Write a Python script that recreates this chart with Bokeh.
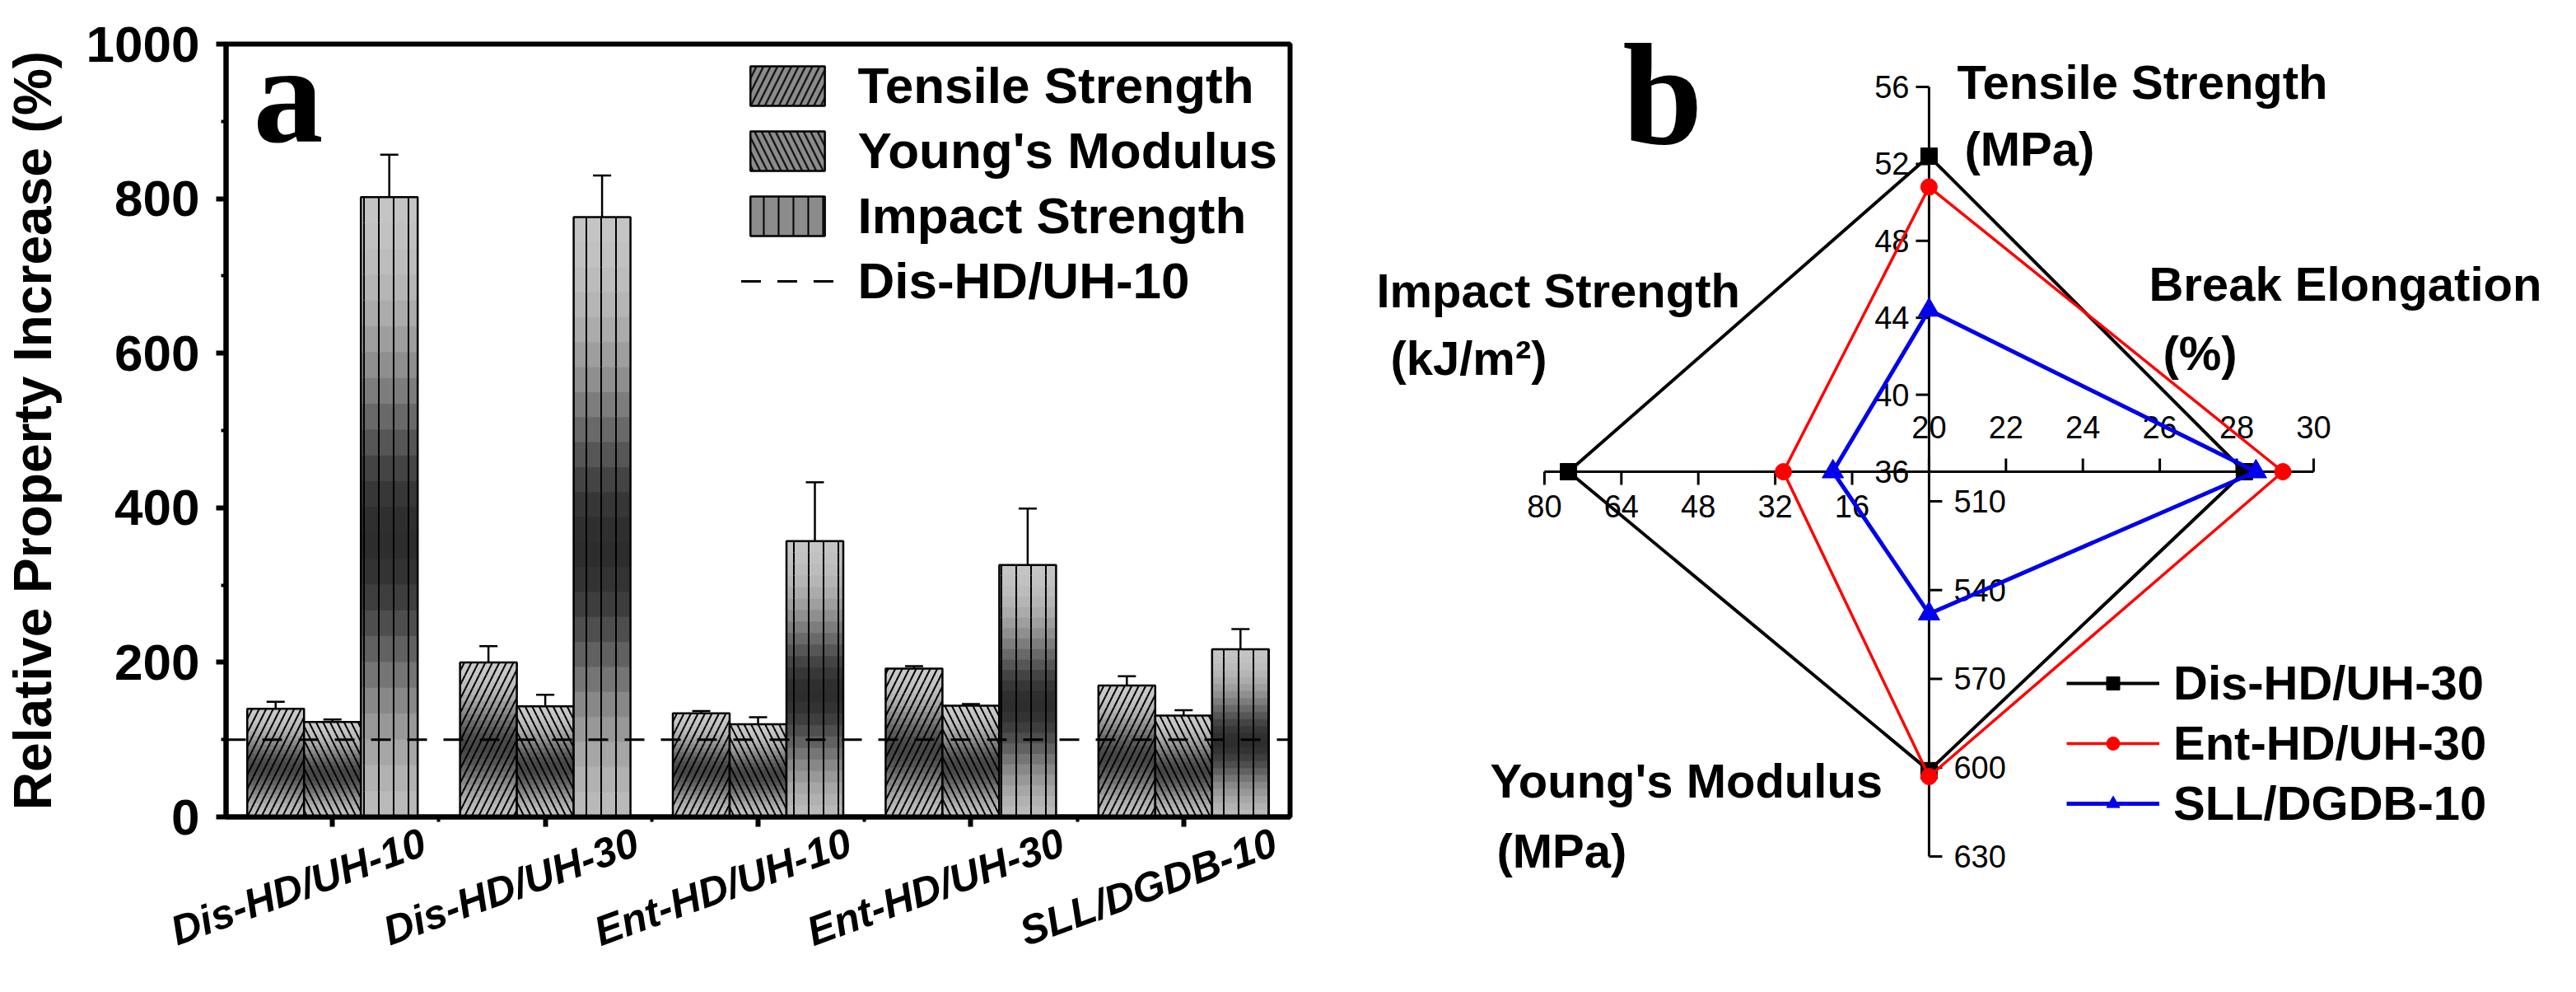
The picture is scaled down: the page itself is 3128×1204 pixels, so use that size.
import math

from bokeh.core.properties import value
from bokeh.embed import file_html
from bokeh.layouts import row
from bokeh.models import (ColumnDataSource, FixedTicker, Label, Legend, LegendItem,
                          LinearAxis, Range1d, SingleIntervalTicker, TeeHead, Whisker)
from bokeh.plotting import figure
from bokeh.resources import INLINE

# panel a: relative property increase (%)
categories = ["Dis-HD/UH-10", "Dis-HD/UH-30", "Ent-HD/UH-10", "Ent-HD/UH-30", "SLL/DGDB-10"]
tensile = [140, 200, 134, 192, 170]
tensile_err = [9, 21, 3, 3, 12]
modulus = [123, 143, 120, 144, 131]
modulus_err = [3, 15, 9, 2, 7]
impact = [802, 776, 357, 326, 217]
impact_err = [55, 54, 76, 73, 26]
reference_level = 100  # Dis-HD/UH-10

# panel b: radar, axes in order up, right, down, left
radar_axes = ["Tensile Strength", "Break Elongation", "Young's Modulus", "Impact Strength"]
radar_units = ["(MPa)", "(%)", "(MPa)", "(kJ/m\u00b2)"]
radar_lo = [36, 20, 500, 0]
radar_hi = [56, 30, 630, 80]
tensile_ticks = [36, 40, 44, 48, 52, 56]
elongation_ticks = [20, 22, 24, 26, 28, 30]
modulus_ticks = [510, 540, 570, 600, 630]
impact_ticks = [16, 32, 48, 64, 80]
radar_names = ["Dis-HD/UH-30", "Ent-HD/UH-30", "SLL/DGDB-10"]
dis_hd_uh_30 = [52.4, 28.2, 601, 75.0]
ent_hd_uh_30 = [50.8, 29.2, 603, 30.3]
sll_dgdb_10 = [44.4, 28.5, 548, 20.0]

SANS = "Liberation Sans"
SERIF = "Liberation Serif"


def shade(f, light, dark):
    # light at the bar ends, dark a bit below the middle
    g = light - (light - dark) * math.exp(-((f - 0.45) / 0.28) ** 2)
    g = int(round(g))
    return "#%02x%02x%02x" % (g, g, g)


# ---------------- panel a ----------------
n_cat = len(categories)
centers = [i + 0.5 for i in range(n_cat)]

pa = figure(x_range=Range1d(0, n_cat), y_range=Range1d(0, 1000),
            width=1640, height=1188, output_backend="svg", toolbar_location=None,
            min_border_left=273, min_border_right=74, min_border_top=53,
            min_border_bottom=196)
if "frame_align" in pa.properties():
    pa.frame_align = False
pa.grid.grid_line_color = None
pa.outline_line_color = "black"
pa.outline_line_width = 6

pa.axis.axis_line_width = 6
pa.axis.major_tick_line_width = 6
pa.axis.major_tick_out = 12
pa.axis.major_tick_in = 0
pa.axis.minor_tick_in = 0
pa.axis.minor_tick_out = 6
pa.axis.minor_tick_line_width = 4
pa.yaxis.ticker = SingleIntervalTicker(interval=200, num_minor_ticks=2)
pa.yaxis.major_label_text_font = SANS
pa.yaxis.major_label_text_font_size = "62px"
pa.yaxis.major_label_text_font_style = "bold"
pa.yaxis.major_label_text_color = "black"
pa.yaxis.major_label_standoff = 20
pa.yaxis.axis_label = "Relative Property Increase (%)"
pa.yaxis.axis_label_text_font = SANS
pa.yaxis.axis_label_text_font_size = "64px"
pa.yaxis.axis_label_text_font_style = "bold"
pa.yaxis.axis_label_text_color = "black"
pa.yaxis.axis_label_standoff = 26
# group ticks at the centres, small ticks between groups; names go on a second axis
pa.xaxis.ticker = FixedTicker(ticks=centers, minor_ticks=list(range(1, n_cat)))
pa.xaxis.major_label_text_color = None
pa.xaxis.major_label_text_font_size = "1px"
pa.xaxis.major_label_standoff = 0

# category names sit to the right of, and below, their ticks in the original figure
name_pos = [c + 0.43 for c in centers]
name_axis = LinearAxis(ticker=FixedTicker(ticks=name_pos),
                       major_label_overrides={p: c for p, c in zip(name_pos, categories)},
                       axis_line_color=None, major_tick_line_color=None,
                       minor_tick_line_color=None, major_label_standoff=11,
                       major_label_orientation=math.radians(20),
                       major_label_text_font=SANS, major_label_text_font_size="50px",
                       major_label_text_font_style="bold italic",
                       major_label_text_color="black")
pa.add_layout(name_axis, "below")

N_BANDS = 24
bar_w = 0.267
bar_series = [
    ("Tensile Strength", tensile, tensile_err, -bar_w, "right_diagonal_line", 17, 205, 70),
    ("Young's Modulus", modulus, modulus_err, 0.0, "left_diagonal_line", 17, 205, 70),
    ("Impact Strength", impact, impact_err, bar_w, "vertical_line", 18, 200, 45),
]

legend_a = []
for name, vals, errs, off, hatch, hscale, light, dark in bar_series:
    xs = [c + off for c in centers]
    bx, bottoms, tops, colors = [], [], [], []
    for x, v in zip(xs, vals):
        for k in range(N_BANDS):
            bx.append(x)
            bottoms.append(v * k / N_BANDS)
            tops.append(v * min(k + 1.6, N_BANDS) / N_BANDS)
            colors.append(shade((k + 0.5) / N_BANDS, light, dark))
    bands = ColumnDataSource(dict(x=bx, bottom=bottoms, top=tops, color=colors))
    pa.vbar(x="x", bottom="bottom", top="top", width=bar_w, source=bands,
            fill_color="color", line_color=None,
            hatch_pattern=hatch, hatch_color="black", hatch_weight=2, hatch_scale=hscale)

    src = ColumnDataSource(dict(x=xs, val=vals,
                                upper=[v + e for v, e in zip(vals, errs)],
                                lower=[v - e for v, e in zip(vals, errs)]))
    pa.vbar(x="x", top="val", width=bar_w, source=src,
            fill_color=None, line_color="black", line_width=2.5)
    pa.add_layout(Whisker(base="x", upper="upper", lower="lower", source=src,
                          line_color="black", line_width=2.5,
                          upper_head=TeeHead(size=22, line_width=2.5, line_color="black"),
                          lower_head=TeeHead(size=22, line_width=2.5, line_color="black")))

    # zero-height swatch used only by the legend
    proxy = pa.vbar(x=[xs[0]], bottom=[0], top=[0], width=bar_w,
                    fill_color="#8c8c8c", line_color="black", line_width=2.5,
                    hatch_pattern=hatch, hatch_color="black", hatch_weight=2,
                    hatch_scale=hscale)
    legend_a.append(LegendItem(label=name, renderers=[proxy]))

ref_line = pa.line(x=[0, n_cat], y=[reference_level, reference_level],
                   line_color="black", line_width=3, line_dash="24 20")
legend_a.append(LegendItem(label="Dis-HD/UH-10", renderers=[ref_line]))

leg_a = Legend(items=legend_a, location="top_right", glyph_width=113, glyph_height=60,
               label_standoff=29, spacing=8, padding=10, margin=5,
               label_text_font=SANS, label_text_font_size="62px",
               label_text_font_style="bold", label_text_color="black",
               border_line_alpha=0, background_fill_alpha=0)
pa.add_layout(leg_a)

pa.add_layout(Label(x=0.128, y=934, text="a", text_font=SERIF, text_font_size="170px",
                    text_font_style="bold", text_baseline="middle", text_color="black"))

# ---------------- panel b ----------------
pb = figure(width=1472, height=1188, x_range=Range1d(-1.503, 1.649),
            y_range=Range1d(-1.319, 1.2248), output_backend="svg", toolbar_location=None,
            x_axis_location=None, y_axis_location=None, min_border=0,
            outline_line_color=None)
if "frame_align" in pb.properties():
    pb.frame_align = False
pb.grid.grid_line_color = None

directions = [(0, 1), (1, 0), (0, -1), (-1, 0)]
tick_dirs = [(-1, 0), (0, 1), (1, 0), (0, -1)]
tick_len = 16 / 467
all_ticks = [tensile_ticks, elongation_ticks, modulus_ticks, impact_ticks]
label_place = [(-24, 0, "right"), (0, -54, "center"), (30, 0, "left"), (0, 42, "center")]

pb.segment(x0=[0] * 4, y0=[0] * 4, x1=[d[0] for d in directions],
           y1=[d[1] for d in directions], line_color="black", line_width=3)

for ticks, lo, hi, (dx, dy), (tx, ty), (xo, yo, al) in zip(
        all_ticks, radar_lo, radar_hi, directions, tick_dirs, label_place):
    r = [(t - lo) / (hi - lo) for t in ticks]
    xs = [dx * v for v in r]
    ys = [dy * v for v in r]
    pb.segment(x0=xs, y0=ys, x1=[x + tx * tick_len for x in xs],
               y1=[y + ty * tick_len for y in ys], line_color="black", line_width=3)
    pb.text(x=xs, y=ys, text=[str(t) for t in ticks], x_offset=xo, y_offset=yo,
            text_align=al, text_baseline="middle", text_font=value(SANS),
            text_font_size="38px", text_color="black")

# axis titles, offsets (px) from the end of each axis to the text middle
title_place = [(34, -6, 43, 75), (-200, -228, -183, -144),
               (-533, -92, -525, -7), (-204, -220, -187, -138)]
for (dx, dy), title, unit, (tx, ty, ux, uy) in zip(directions, radar_axes, radar_units,
                                                    title_place):
    pb.text(x=[dx], y=[dy], text=[title], x_offset=tx, y_offset=ty,
            text_baseline="middle", text_font=value(SANS), text_font_size="58px",
            text_font_style="bold", text_color="black")
    pb.text(x=[dx], y=[dy], text=[unit], x_offset=ux, y_offset=uy,
            text_baseline="middle", text_font=value(SANS), text_font_size="58px",
            text_font_style="bold", text_color="black")

radar_style = [("#000000", 4, "square", 20), ("#ff0000", 3.5, "circle", 20),
               ("#0000ee", 5, "triangle", 26)]
legend_b = []
for name, vals, (color, lw, marker, size) in zip(
        radar_names, [dis_hd_uh_30, ent_hd_uh_30, sll_dgdb_10], radar_style):
    xs, ys = [], []
    for v, lo, hi, (dx, dy) in zip(vals, radar_lo, radar_hi, directions):
        r = (v - lo) / (hi - lo)
        xs.append(dx * r)
        ys.append(dy * r)
    ln = pb.line(x=xs + xs[:1], y=ys + ys[:1], line_color=color, line_width=lw,
                 line_join="round")
    sc = pb.scatter(x=xs, y=ys, marker=marker, size=size, fill_color=color,
                    line_color=color)
    legend_b.append(LegendItem(label=name, renderers=[ln, sc]))

leg_b = Legend(items=legend_b, location=(861, 172), glyph_width=113, glyph_height=40,
               label_standoff=17, spacing=6, padding=8, label_text_font=SANS,
               label_text_font_size="58px", label_text_font_style="bold",
               label_text_color="black", border_line_alpha=0, background_fill_alpha=0)
pb.add_layout(leg_b)

pb.add_layout(Label(x=-0.797, y=0.979, text="b", text_font=SERIF, text_font_size="175px",
                    text_font_style="bold", text_baseline="middle", text_color="black"))

layout = row(pa, pb)
open("out.html", "w").write(file_html(layout, INLINE))
